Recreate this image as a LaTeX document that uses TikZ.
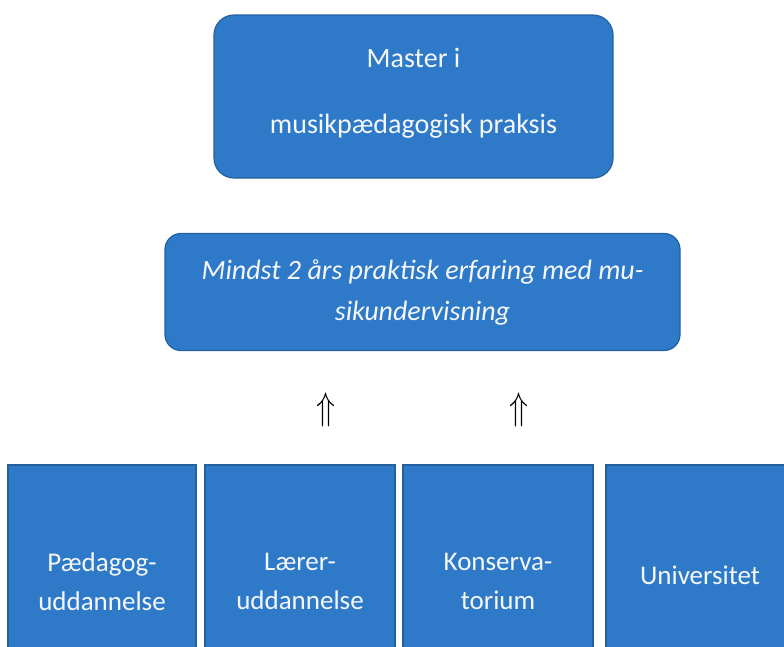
\documentclass[tikz,border=0pt]{standalone}
\usepackage{fontspec}
\usepackage{graphicx}
\setmainfont{Carlito}
\definecolor{boxfill}{RGB}{46,122,200}
\definecolor{boxline}{RGB}{36,96,160}
\definecolor{boxtext}{RGB}{245,247,250}
\tikzset{
  bluebox/.style={draw=boxline, line width=1.2pt, fill=boxfill, text=boxtext,
    align=center, inner sep=0pt},
  roundbox/.style={bluebox, rounded corners=20pt},
  basebox/.style={bluebox, minimum width=188pt, minimum height=233pt,
    font=\fontsize{27}{39}\selectfont},
  uparr/.style={font=\fontsize{24}{24}\selectfont, inner sep=0pt}
}
\newcommand{\bigUp}{\scalebox{1.25}[1.55]{$\Uparrow$}}
\begin{document}
\begin{tikzpicture}[x=1pt,y=-1pt]
\useasboundingbox (0,0) rectangle (784,646);
\clip (0,0) rectangle (784,646);
\node[roundbox, minimum width=399pt, minimum height=163pt, text depth=12pt,
  font=\fontsize{28}{33}\selectfont] (master) at (413.5,96.5)
  {Master i\\[33pt]musikpædagogisk praksis};
\node[roundbox, rounded corners=16pt, minimum width=515pt, minimum height=117pt,
  font=\itshape\fontsize{28}{41}\selectfont] (erfaring) at (422.5,292)
  {Mindst 2 års praktisk erfaring med mu-\\sikundervisning};
\node[uparr] (arrA) at (326,410) {\bigUp};
\node[uparr] (arrB) at (519,410) {\bigUp};
\node[basebox] (paed) at (102,581.5) {Pædagog-\\uddannelse};
\node[basebox, minimum width=190pt] (laerer) at (300,581.5) {Lærer-\\uddannelse};
\node[basebox, minimum width=190pt] (kons) at (498,581.5) {Konserva-\\torium};
\node[basebox] (uni) at (700,581.5) {Universitet\\[-39pt]\strut};
\end{tikzpicture}
\end{document}
